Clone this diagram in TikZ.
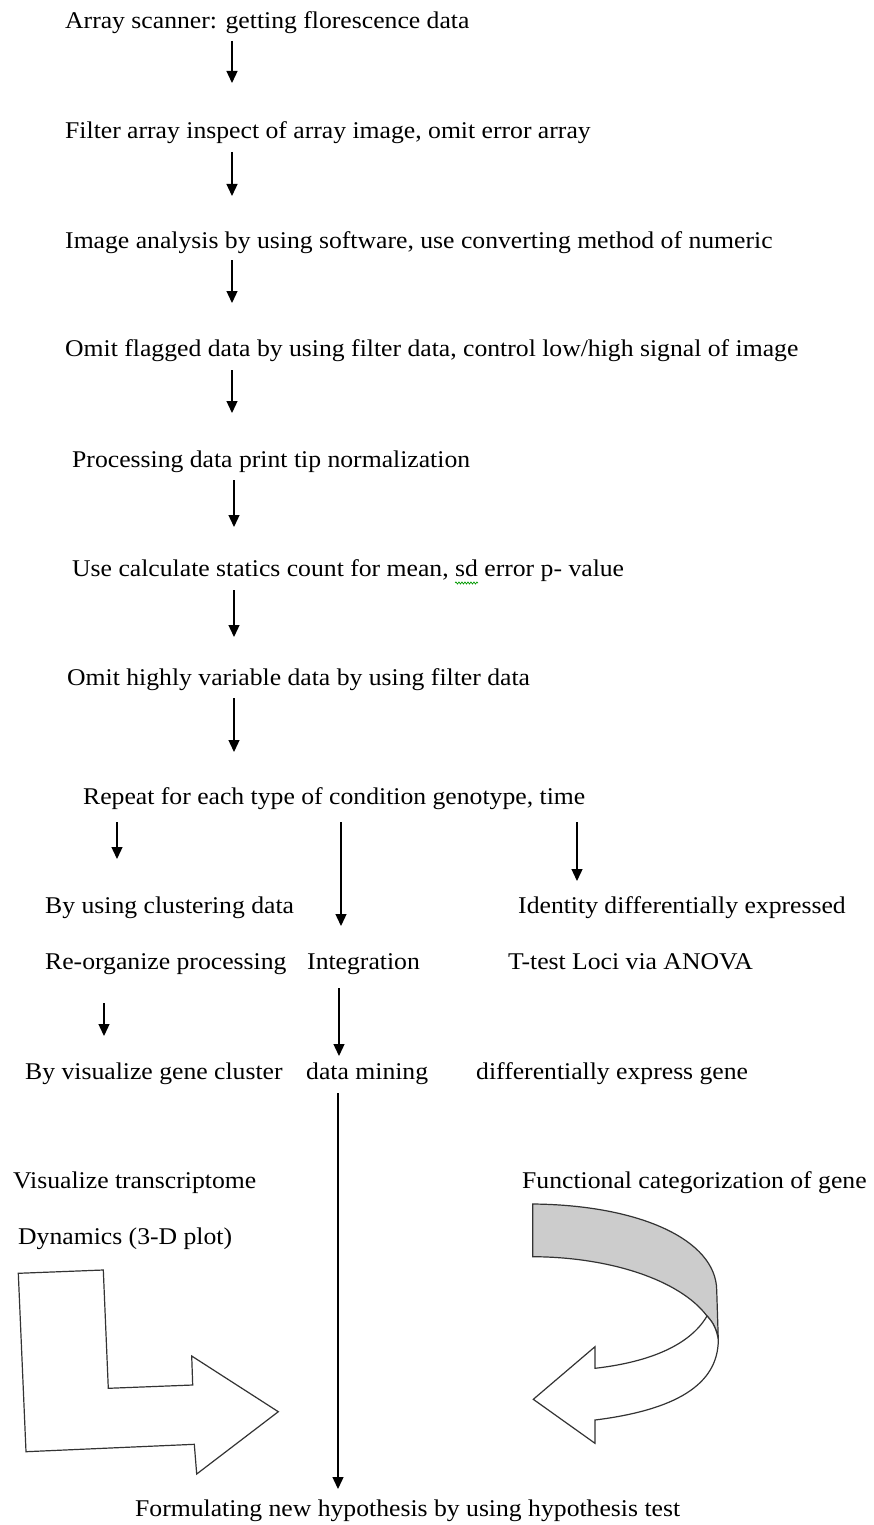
\documentclass[tikz,border=0pt]{standalone}
\usepackage{fontspec}
\setmainfont[FakeStretch=1.07]{Liberation Serif}
\usetikzlibrary{arrows.meta,decorations.pathmorphing}
\begin{document}
\begin{tikzpicture}[x=1pt,y=-1pt,
  txt/.style={anchor=base west,inner sep=0pt,font=\fontsize{24}{28}\selectfont},
  arr/.style={line width=1.3pt,-{Triangle[length=12pt,width=11pt]}},
  blockarrow/.style={line width=1.2pt,draw=black!80,line join=miter}]
\useasboundingbox[fill=white] (0,0) rectangle (874,1525);

% texts (baselines)
\node[txt] (t1) at (65,28.5) {Array scanner: getting florescence data};
\node[txt] (t2) at (65,138.5) {Filter array inspect of array image, omit error array};
\node[txt] (t3) at (65,248.5) {Image analysis by using software, use converting method of numeric};
\node[txt] (t4) at (65,356.5) {Omit flagged data by using filter data, control low/high signal of image};
\node[txt] (t5) at (72,467.5) {Processing data print tip normalization};
\node[txt] (t6) at (72,576.5) {Use calculate statics count for mean, sd error p- value};
\node[txt] (t7) at (67,685.5) {Omit highly variable data by using filter data};
\node[txt] (t8) at (83,804.5) {Repeat for each type of condition genotype, time};
\node[txt] (l1) at (45,913.5) {By using clustering data};
\node[txt] (r1) at (518,913.5) {Identity differentially expressed};
\node[txt] (l2) at (45,969.5) {Re-organize processing};
\node[txt] (m2) at (307,969.5) {Integration};
\node[txt] (r2) at (508,969.5) {T-test Loci via ANOVA};
\node[txt] (l3) at (25,1079.5) {By visualize gene cluster};
\node[txt] (m3) at (306,1079.5) {data mining};
\node[txt] (r3) at (476,1079.5) {differentially express gene};
\node[txt] (v1) at (13,1188.5) {Visualize transcriptome};
\node[txt] (f1) at (522,1188.5) {Functional categorization of gene};
\node[txt] (v2) at (18,1244.5) {Dynamics (3-D plot)};
\node[txt] (fin) at (135,1516.5) {Formulating new hypothesis by using hypothesis test};

% spell-check squiggle under "sd"
\draw[green!60!black,line width=0.7pt,decorate,decoration={snake,amplitude=1pt,segment length=3pt}] (455,583) -- (478,583);

% arrow end points
\coordinate (a1s) at (232,41);  \coordinate (a1e) at (232,83);
\coordinate (a2s) at (232,152); \coordinate (a2e) at (232,196);
\coordinate (a3s) at (232,260); \coordinate (a3e) at (232,303);
\coordinate (a4s) at (232,370); \coordinate (a4e) at (232,413);
\coordinate (a5s) at (234,480); \coordinate (a5e) at (234,527);
\coordinate (a6s) at (234,590); \coordinate (a6e) at (234,637);
\coordinate (a7s) at (234,698); \coordinate (a7e) at (234,752);
\coordinate (bls) at (117,822); \coordinate (ble) at (117,859);
\coordinate (bms) at (341,822); \coordinate (bme) at (341,926);
\coordinate (brs) at (577,822); \coordinate (bre) at (577,881);
\coordinate (cls) at (104,1003); \coordinate (cle) at (104,1036);
\coordinate (cms) at (339,988); \coordinate (cme) at (339,1056);
\coordinate (dms) at (338,1093); \coordinate (dme) at (338,1489);

\foreach \a in {a1,a2,a3,a4,a5,a6,a7,bl,bm,br,cl,cm,dm}
  \draw[arr] (\a s) -- (\a e);

% L-shaped block arrow
\draw[blockarrow] (18.3,1273.3) -- (103.3,1270) -- (108.3,1388.3) -- (192.7,1385)
  -- (191.7,1356) -- (278.3,1411.7) -- (196.7,1474) -- (194.3,1444.3)
  -- (26,1451.7) -- cycle;

% curved ribbon arrow
\draw[blockarrow,fill=black!20] (532.7,1204)
  .. controls (640,1205) and (716,1240) .. (716.7,1290)
  -- (718.3,1340)
  .. controls (717,1330) and (713,1322) .. (707,1316)
  .. controls (680,1280) and (610,1257) .. (532.7,1256.7) -- cycle;
\draw[blockarrow,fill=white] (707,1316)
  .. controls (690,1345) and (650,1362) .. (595,1368.3)
  -- (595,1346.7) -- (533.3,1399.3) -- (595,1443.3) -- (595,1420)
  .. controls (675,1410) and (718,1385) .. (718.3,1340)
  .. controls (717,1330) and (713,1322) .. (707,1316) -- cycle;
\end{tikzpicture}
\end{document}
